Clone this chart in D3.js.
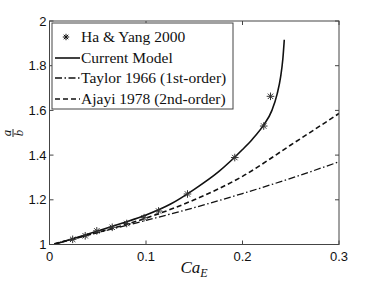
<!DOCTYPE html>
<html>
<head>
<meta charset="utf-8">
<script src="https://cdn.jsdelivr.net/npm/d3@7"></script>
<style>
  body { margin: 0; background: #fff; }
  .tick-label { font-family: "Liberation Sans", Arial, sans-serif; font-size: 13px; fill: #111; }
  .legend-text { font-family: "Liberation Serif", serif; font-size: 15.5px; fill: #111; }
</style>
</head>
<body>
<svg id="chart" width="374" height="282"></svg>
<script>
// experimental points (Ha & Yang 2000)
const haYangCa = [0.024, 0.037, 0.049, 0.065, 0.080, 0.098, 0.113, 0.143, 0.192, 0.222, 0.229];
const haYangAB = [1.023, 1.039, 1.061, 1.077, 1.094, 1.120, 1.150, 1.226, 1.389, 1.530, 1.663];

// current model
const modelCa = [0.005, 0.025, 0.05, 0.075, 0.1, 0.125, 0.15, 0.175, 0.2, 0.21, 0.222, 0.2305, 0.236, 0.2395, 0.2418, 0.2433];
const modelAB = [1.0, 1.027, 1.06, 1.095, 1.132, 1.18, 1.247, 1.325, 1.425, 1.47, 1.535, 1.6, 1.675, 1.75, 1.83, 1.916];

// Taylor 1966, first order
const taylorCa = [0.005, 0.05, 0.1, 0.15, 0.2, 0.25, 0.3];
const taylorAB = [1.003, 1.053, 1.108, 1.165, 1.228, 1.296, 1.37];

// Ajayi 1978, second order
const ajayiCa = [0.005, 0.05, 0.1, 0.15, 0.2, 0.25, 0.3];
const ajayiAB = [1.003, 1.054, 1.118, 1.2, 1.305, 1.445, 1.586];

const xTicks = [0, 0.1, 0.2, 0.3];
const yTicks = [1, 1.2, 1.4, 1.6, 1.8, 2];

const legendLabels = ["Ha & Yang 2000", "Current Model", "Taylor 1966 (1st-order)", "Ajayi 1978 (2nd-order)"];

const svg = d3.select("#chart");
const x = d3.scaleLinear().domain([0, 0.3]).range([49.5, 339]);
const y = d3.scaleLinear().domain([1, 2]).range([244.5, 21]);

const zip = (a, b) => a.map((v, i) => [v, b[i]]);

// clip to the axes box
svg.append("clipPath").attr("id", "plot-clip")
  .append("rect")
  .attr("x", x(0)).attr("y", y(2))
  .attr("width", x(0.3) - x(0)).attr("height", y(1) - y(2));

const plot = svg.append("g").attr("clip-path", "url(#plot-clip)");

const line = d3.line().x((d) => x(d[0])).y((d) => y(d[1])).curve(d3.curveMonotoneX);

const styles = {
  model: { dash: null, width: 1.6 },
  taylor: { dash: "7,2.5,1.5,2.5", width: 1.3 },
  ajayi: { dash: "5,3", width: 1.6 },
};

plot.append("path").datum(zip(taylorCa, taylorAB))
  .attr("d", line).attr("fill", "none").attr("stroke", "#111")
  .attr("stroke-width", styles.taylor.width).attr("stroke-dasharray", styles.taylor.dash);

plot.append("path").datum(zip(ajayiCa, ajayiAB))
  .attr("d", line).attr("fill", "none").attr("stroke", "#111")
  .attr("stroke-width", styles.ajayi.width).attr("stroke-dasharray", styles.ajayi.dash);

plot.append("path").datum(zip(modelCa, modelAB))
  .attr("d", line).attr("fill", "none").attr("stroke", "#111")
  .attr("stroke-width", styles.model.width);

// asterisk marker like matlab '*'
const star = (r) => {
  const d = r * 0.7071;
  return `M${-r},0L${r},0M0,${-r}L0,${r}M${-d},${-d}L${d},${d}M${-d},${d}L${d},${-d}`;
};

plot.selectAll(".pt")
  .data(zip(haYangCa, haYangAB))
  .enter()
  .append("path")
  .attr("class", "pt")
  .attr("transform", (d) => `translate(${x(d[0])},${y(d[1])})`)
  .attr("d", star(3.8))
  .attr("stroke", "#333")
  .attr("stroke-width", 1)
  .attr("fill", "none");

// axes box
const axisColor = "#444";
svg.append("rect")
  .attr("x", x(0)).attr("y", y(2))
  .attr("width", x(0.3) - x(0)).attr("height", y(1) - y(2))
  .attr("fill", "none").attr("stroke", axisColor).attr("stroke-width", 1);

const tickLen = 4;
const axes = svg.append("g");

xTicks.forEach((t) => {
  axes.append("line").attr("x1", x(t)).attr("x2", x(t))
    .attr("y1", y(1)).attr("y2", y(1) - tickLen).attr("stroke", axisColor);
  axes.append("line").attr("x1", x(t)).attr("x2", x(t))
    .attr("y1", y(2)).attr("y2", y(2) + tickLen).attr("stroke", axisColor);
  axes.append("text").attr("class", "tick-label")
    .attr("x", x(t)).attr("y", y(1) + 16)
    .attr("text-anchor", "middle")
    .text(d3.format("~g")(t));
});

yTicks.forEach((t) => {
  axes.append("line").attr("x1", x(0)).attr("x2", x(0) + tickLen)
    .attr("y1", y(t)).attr("y2", y(t)).attr("stroke", axisColor);
  axes.append("line").attr("x1", x(0.3)).attr("x2", x(0.3) - tickLen)
    .attr("y1", y(t)).attr("y2", y(t)).attr("stroke", axisColor);
  axes.append("text").attr("class", "tick-label")
    .attr("x", x(0) - 3).attr("y", y(t) + 4.5)
    .attr("text-anchor", "end")
    .text(d3.format("~g")(t));
});

// x label Ca_E
const xl = svg.append("text")
  .attr("x", 194).attr("y", 273)
  .attr("text-anchor", "middle")
  .style("font-family", "'Liberation Serif', serif")
  .style("font-style", "italic")
  .style("font-size", "17px")
  .attr("fill", "#111");
xl.append("tspan").text("Ca");
xl.append("tspan").attr("dy", 4).style("font-size", "12px").text("E");

// y label a/b, rotated fraction
const yl = svg.append("g").attr("transform", "translate(13,133) rotate(-90)");
yl.append("text").attr("x", 0).attr("y", -2.5).attr("text-anchor", "middle")
  .style("font-family", "'Liberation Serif', serif").style("font-style", "italic")
  .style("font-size", "13px").attr("fill", "#111").text("a");
yl.append("line").attr("x1", -4).attr("x2", 4).attr("y1", 0).attr("y2", 0)
  .attr("stroke", "#111").attr("stroke-width", 0.9);
yl.append("text").attr("x", 0).attr("y", 9.5).attr("text-anchor", "middle")
  .style("font-family", "'Liberation Serif', serif").style("font-style", "italic")
  .style("font-size", "13px").attr("fill", "#111").text("b");

// legend
const legend = svg.append("g");
legend.append("rect")
  .attr("x", 52).attr("y", 23).attr("width", 181).attr("height", 86)
  .attr("fill", "#fff").attr("stroke", axisColor).attr("stroke-width", 1);

const rowY = [37, 58, 78, 99];
const keys = ["points", "model", "taylor", "ajayi"];

legendLabels.forEach((label, i) => {
  const yy = rowY[i];
  if (keys[i] === "points") {
    legend.append("path")
      .attr("transform", `translate(66,${yy})`)
      .attr("d", star(3.2))
      .attr("stroke", "#111").attr("stroke-width", 1).attr("fill", "none");
  } else {
    const st = styles[keys[i]];
    legend.append("line")
      .attr("x1", 55).attr("x2", 80).attr("y1", yy).attr("y2", yy)
      .attr("stroke", "#111").attr("stroke-width", st.width)
      .attr("stroke-dasharray", st.dash);
  }
  legend.append("text").attr("class", "legend-text")
    .attr("x", 81).attr("y", yy + 5)
    .text(label);
});
</script>
</body>
</html>
